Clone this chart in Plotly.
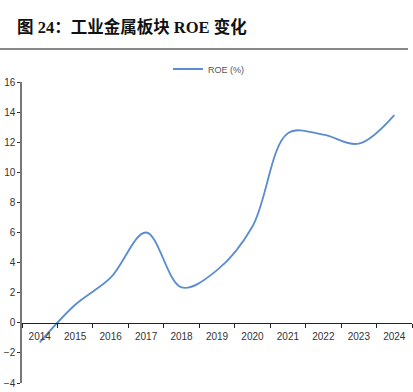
import plotly.graph_objects as go

years = ["2014", "2015", "2016", "2017", "2018", "2019", "2020", "2021", "2022", "2023", "2024"]
roe = [-1.3, 1.2, 3.0, 6.0, 2.35, 3.5, 6.4, 12.6, 12.5, 11.9, 13.8]
yticks = [-4, -2, 0, 2, 4, 6, 8, 10, 12, 14, 16]

W, H = 413, 392
L, R, T, B = 22, 1, 82, 9
pw, ph = W - L - R, H - T - B

fig = go.Figure()
fig.add_trace(go.Scatter(
    x=years, y=roe, mode="lines", name="ROE (%)",
    line=dict(color="#5B8CD1", width=1.8, shape="spline", smoothing=1.0),
))

fig.update_layout(
    width=W, height=H,
    margin=dict(l=L, r=R, t=T, b=B),
    paper_bgcolor="white", plot_bgcolor="white",
    showlegend=True,
    legend=dict(orientation="h", x=(168 - L) / pw, xanchor="left",
                y=1 + 13 / ph, yanchor="middle",
                font=dict(family="Liberation Sans Narrow, Liberation Sans, Arial", size=9, color="#555555")),
    xaxis=dict(type="category", range=[-0.5, 10.5], anchor="free", position=0.2,
               automargin=False,
               showline=True, linecolor="#222222", linewidth=1.3,
               ticks="outside", ticklen=4, tickcolor="#222222", tickson="boundaries",
               ticklabelstandoff=4,
               showgrid=False,
               tickfont=dict(family="Liberation Sans, Arial", size=10, color="#333333")),
    yaxis=dict(range=[-4, 16], tickvals=yticks, showline=True, linecolor="#777777",
               automargin=False,
               linewidth=1.5, ticks="outside", ticklen=3, tickcolor="#333333",
               showgrid=False, zeroline=False,
               tickfont=dict(family="Liberation Sans, Arial", size=10, color="#333333")),
)

fig.add_annotation(
    text="<b>图 24：工业金属板块 ROE 变化</b>",
    xref="paper", yref="paper", x=(15 - L) / pw, y=1 + (T - 27) / ph,
    xanchor="left", yanchor="middle", showarrow=False,
    font=dict(family="Liberation Serif, Noto Sans CJK SC", size=16.5, color="#111111"),
)
fig.add_shape(type="line", xref="paper", yref="paper",
              x0=(0 - L) / pw, x1=(408 - L) / pw,
              y0=1 + (T - 49) / ph, y1=1 + (T - 49) / ph,
              line=dict(color="#888888", width=2))
fig.write_html("out.html", config={"displayModeBar": False},
               post_script="document.body.style.margin='0';document.body.style.overflow='hidden';")
